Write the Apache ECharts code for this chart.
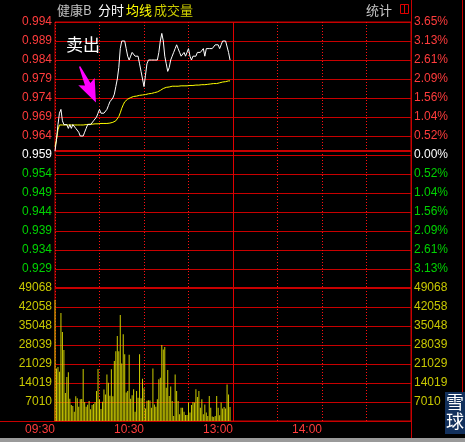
<!DOCTYPE html>
<html><head><meta charset="utf-8">
<script src="https://cdn.jsdelivr.net/npm/echarts/dist/echarts.min.js"></script>
<style>html,body{margin:0;padding:0;background:#000;}#c{width:465px;height:442px;}</style>
</head><body><div id="c"></div>
<script>
// ---- data ----
const prevClose = 0.959;
const priceMin = 0.924, priceMax = 0.994, priceStep = 0.005;
const priceLabels = ['', '0.929','0.934','0.939','0.944','0.949','0.954','0.959','0.964','0.969','0.974','0.979','0.984','0.989','0.994'];
const pctLabels = ['', '3.13%','2.61%','2.09%','1.56%','1.04%','0.52%','0.00%','0.52%','1.04%','1.56%','2.09%','2.61%','3.13%','3.65%'];
const volMax = 49068;
const volLabels = ['', '7010','14019','21029','28039','35048','42058','49068'];
const timeLabels = {0:'09:30', 60:'10:30', 120:'13:00', 180:'14:00'};
const sessionBreak = 120;

const price = [
0.960,0.963,0.967,0.970,0.971,0.968,0.967,0.967,0.967,0.966,
0.967,0.966,0.967,0.967,0.966,0.966,0.965,0.964,0.964,0.964,
0.965,0.966,0.967,0.967,0.967,0.967,0.968,0.968,0.969,0.970,
0.971,0.970,0.970,0.970,0.970,0.971,0.972,0.973,0.973,0.974,
0.975,0.977,0.979,0.982,0.987,0.989,0.989,0.989,0.987,0.985,
0.984,0.985,0.986,0.986,0.985,0.985,0.985,0.983,0.981,0.979,
0.977,0.980,0.983,0.984,0.984,0.984,0.984,0.984,0.984,0.984,
0.986,0.989,0.991,0.989,0.985,0.983,0.981,0.982,0.984,0.985,
0.986,0.987,0.988,0.987,0.986,0.985,0.985,0.986,0.985,0.986,
0.987,0.985,0.984,0.985,0.985,0.985,0.986,0.986,0.986,0.986,
0.987,0.985,0.987,0.987,0.987,0.987,0.987,0.987,0.988,0.988,
0.988,0.987,0.988,0.989,0.989,0.989,0.989,0.986,0.984];

const avgPrice = [
0.9612,0.9630,0.9656,0.9669,0.9669,0.9669,0.9669,0.9669,0.9669,0.9669,
0.9669,0.9669,0.9669,0.9669,0.9669,0.9669,0.9669,0.9669,0.9669,0.9669,
0.9670,0.9670,0.9670,0.9671,0.9671,0.9671,0.9672,0.9672,0.9672,0.9672,
0.9672,0.9673,0.9673,0.9673,0.9673,0.9673,0.9674,0.9674,0.9675,0.9676,
0.9678,0.9680,0.9684,0.9691,0.9701,0.9713,0.9722,0.9730,0.9735,0.9737,
0.9739,0.9741,0.9743,0.9744,0.9744,0.9745,0.9746,0.9747,0.9748,0.9748,
0.9748,0.9749,0.9750,0.9751,0.9751,0.9752,0.9753,0.9754,0.9755,0.9756,
0.9757,0.9760,0.9763,0.9765,0.9767,0.9768,0.9769,0.9769,0.9770,0.9771,
0.9771,0.9771,0.9771,0.9771,0.9772,0.9772,0.9772,0.9772,0.9772,0.9772,
0.9772,0.9773,0.9773,0.9773,0.9773,0.9774,0.9774,0.9774,0.9775,0.9775,
0.9775,0.9775,0.9776,0.9776,0.9776,0.9777,0.9777,0.9778,0.9778,0.9778,
0.9779,0.9780,0.9781,0.9782,0.9782,0.9783,0.9784,0.9785,0.9785];

const volume = [
44650,19400,19900,18200,39850,32800,26200,10300,16200,18000,
8200,5900,5500,3400,9100,8400,5300,8000,8100,19200,
7000,5300,6000,7400,4300,5900,6300,7000,11100,19200,
7900,4400,7100,11600,9800,17200,14100,9300,19100,9100,
22100,25700,31400,25700,39100,21200,32000,24600,10500,11100,
24400,8200,9500,11700,3400,11100,8600,24600,8400,15600,
12100,4600,7500,7700,7600,4900,19400,6100,5300,8000,
15400,16000,28000,26400,27300,12300,18800,9200,12700,7400,
1800,17200,11100,7400,2500,4900,4900,3400,2200,2200,
6800,3100,5900,7000,6800,11700,8900,11100,4900,8000,
2500,6100,3100,1800,9200,4900,1700,1500,1800,9200,
4900,2100,6800,4600,5200,4600,13500,9800,5200];

// annotation (in data coordinates: minute index, price)
const sellText = '卖出';
const sellTextAt = [18.9, 0.9880];
const arrowFrom = [16.6, 0.9823];
const arrowTo = [27.6, 0.9728];

// ---- chart ----
const RED = '#c80000';
const FONT = '"Liberation Sans", Arial, sans-serif';
const CJK = '"Noto Sans CJK SC", sans-serif';
const chart = echarts.init(document.getElementById('c'), null, {renderer:'canvas'});

function priceIdx(v){ return Math.round((v - priceMin) / priceStep); }
function priceColor(v){ const i = priceIdx(v); return i > 7 ? '#ff3c3c' : (i === 7 ? '#ffffff' : '#00d200'); }

const dotted = {show:true, lineStyle:{color:'#ff1010', width:1, type:[1,2]}};
const xBase = {type:'value', min:0, max:240, axisLine:{show:false}, axisTick:{show:false}};

const graphics = [
  {id:'g1', type:'line', shape:{x1:411.5, y1:0, x2:411.5, y2:438}, style:{stroke:RED, lineWidth:1}, z:10},
  {id:'g2', type:'line', shape:{x1:0, y1:421.5, x2:411, y2:421.5}, style:{stroke:RED, lineWidth:1}, z:10},
  {id:'g3', type:'line', shape:{x1:462.5, y1:0, x2:462.5, y2:392}, style:{stroke:RED, lineWidth:1}, z:10},
  {id:'g4', type:'rect', shape:{x:0, y:438, width:465, height:4}, style:{fill:'#9a9a9a'}, z:10},
  {id:'t1', type:'text', left:57, top:4, style:{text:'健康B', fill:'#c0c0c0', font:'13px ' + CJK}},
  {id:'t2', type:'text', left:98, top:4, style:{text:'分时', fill:'#ffffff', font:'13px ' + CJK}},
  {id:'t3', type:'text', left:126, top:4, style:{text:'均线', fill:'#ffff00', font:'13px ' + CJK}},
  {id:'t4', type:'text', left:154, top:4, style:{text:'成交量', fill:'#cccc00', font:'13px ' + CJK}},
  {id:'t5', type:'text', left:366, top:4, style:{text:'统计', fill:'#c8c8c8', font:'13px ' + CJK}},
  {id:'i1', type:'rect', shape:{x:400.5, y:4.5, width:8, height:9}, style:{fill:'none', stroke:'#e00000', lineWidth:1}},
  {id:'i2', type:'line', shape:{x1:404.5, y1:4.5, x2:404.5, y2:13.5}, style:{stroke:'#e00000', lineWidth:1}},
  {id:'w1', type:'rect', shape:{x:445, y:392, width:20, height:42}, style:{fill:'#12305c'}, z:11},
  {id:'w2', type:'text', left:446, top:393, style:{text:'雪', fill:'#ffffff', font:'18px ' + CJK}, z:12},
  {id:'w3', type:'text', left:446, top:412, style:{text:'球', fill:'#ffffff', font:'18px ' + CJK}, z:12}
];

const breakLine = {silent:true, symbol:'none', label:{show:false},
  lineStyle:{color:'#e00000', width:1, type:'solid'}, data:[{xAxis:sessionBreak}]};

const option = {
  backgroundColor:'#000',
  animation:false,
  grid:[
    {left:55, right:54, top:22, height:266, show:true, borderColor:RED, borderWidth:1},
    {left:55, right:54, top:288, height:133, show:true, borderColor:RED, borderWidth:1}
  ],
  xAxis:[
    Object.assign({}, xBase, {gridIndex:0, interval:30, axisLabel:{show:false}, splitLine:dotted}),
    Object.assign({}, xBase, {gridIndex:1, interval:30, splitLine:dotted,
      axisLabel:{show:true, color:'#ff3c3c', fontSize:12, fontFamily:FONT, align:'right', margin:3,
        formatter:v => timeLabels[v] || ''}})
  ],
  yAxis:[
    {type:'value', gridIndex:0, position:'left', min:priceMin, max:priceMax, interval:priceStep,
      axisLine:{show:false}, axisTick:{show:false},
      splitLine:{show:true, lineStyle:{color:RED, width:1}},
      axisLabel:{fontSize:12, fontFamily:FONT, margin:3, color:v => priceColor(v),
        formatter:v => priceLabels[priceIdx(v)] || ''}},
    {type:'value', gridIndex:0, position:'right', min:priceMin, max:priceMax, interval:priceStep,
      axisLine:{show:false}, axisTick:{show:false}, splitLine:{show:false},
      axisLabel:{fontSize:12, fontFamily:FONT, margin:3, color:v => priceColor(v),
        formatter:v => pctLabels[priceIdx(v)] || ''}},
    {type:'value', gridIndex:1, position:'left', min:0, max:volMax, interval:volMax/7,
      axisLine:{show:false}, axisTick:{show:false},
      splitLine:{show:true, lineStyle:{color:RED, width:1}},
      axisLabel:{fontSize:12, fontFamily:FONT, margin:3, color:'#c8c800',
        formatter:v => volLabels[Math.round(v/(volMax/7))] || ''}},
    {type:'value', gridIndex:1, position:'right', min:0, max:volMax, interval:volMax/7,
      axisLine:{show:false}, axisTick:{show:false}, splitLine:{show:false},
      axisLabel:{fontSize:12, fontFamily:FONT, margin:3, color:'#c8c800',
        formatter:v => volLabels[Math.round(v/(volMax/7))] || ''}}
  ],
  series:[
    {type:'line', xAxisIndex:0, yAxisIndex:0, data:price.map((p,i)=>[i,p]),
      showSymbol:false, lineStyle:{color:'#ffffff', width:1}, z:5,
      markLine:{silent:true, symbol:'none', label:{show:false},
        lineStyle:{color:RED, width:2, type:'solid'}, data:[{yAxis:prevClose}]},
      markPoint:{silent:true, symbol:'rect', symbolSize:1, itemStyle:{color:'rgba(0,0,0,0)'},
        label:{show:true, position:'inside', color:'#ffffff', fontSize:17, fontFamily:CJK,
          formatter:sellText},
        data:[{coord:sellTextAt}]}
    },
    {type:'line', xAxisIndex:0, yAxisIndex:0, data:avgPrice.map((p,i)=>[i,p]),
      showSymbol:false, lineStyle:{color:'#ffff00', width:1}, z:4, markLine:breakLine},
    {type:'bar', xAxisIndex:1, yAxisIndex:2, data:volume.map((v,i)=>[i,v]),
      barWidth:1, itemStyle:{color:'#cccc00'},
      markLine:{silent:true, symbol:'none', label:{show:false},
        lineStyle:{color:RED, width:2, type:'solid'}, data:[{yAxis:volMax}, {xAxis:sessionBreak, lineStyle:{width:1, color:'#e00000'}}]}
    }
  ],
  graphic:graphics
};
chart.setOption(option);

// magenta arrow annotation: positioned from data coordinates via the axes
const A = chart.convertToPixel({xAxisIndex:0, yAxisIndex:0}, arrowFrom);
const B = chart.convertToPixel({xAxisIndex:0, yAxisIndex:0}, arrowTo);
const dx = B[0]-A[0], dy = B[1]-A[1], L = Math.hypot(dx, dy);
const ux = dx/L, uy = dy/L, nx = -uy, ny = ux;
const headLen = 20, headHalf = 9, neckHalf = 3, tailHalf = 0.7;
function P(t, w){ return [A[0] + ux*t + nx*w, A[1] + uy*t + ny*w]; }
const arrowPts = [P(0,-tailHalf), P(L-headLen,-neckHalf), P(L-headLen-3,-headHalf), P(L,0),
                  P(L-headLen-3,headHalf), P(L-headLen,neckHalf), P(0,tailHalf)];
chart.setOption({graphic: graphics.concat([
  {id:'arrow', type:'polygon', shape:{points:arrowPts}, style:{fill:'#ff00ff'}, z:20}
])});
</script>
</body></html>
